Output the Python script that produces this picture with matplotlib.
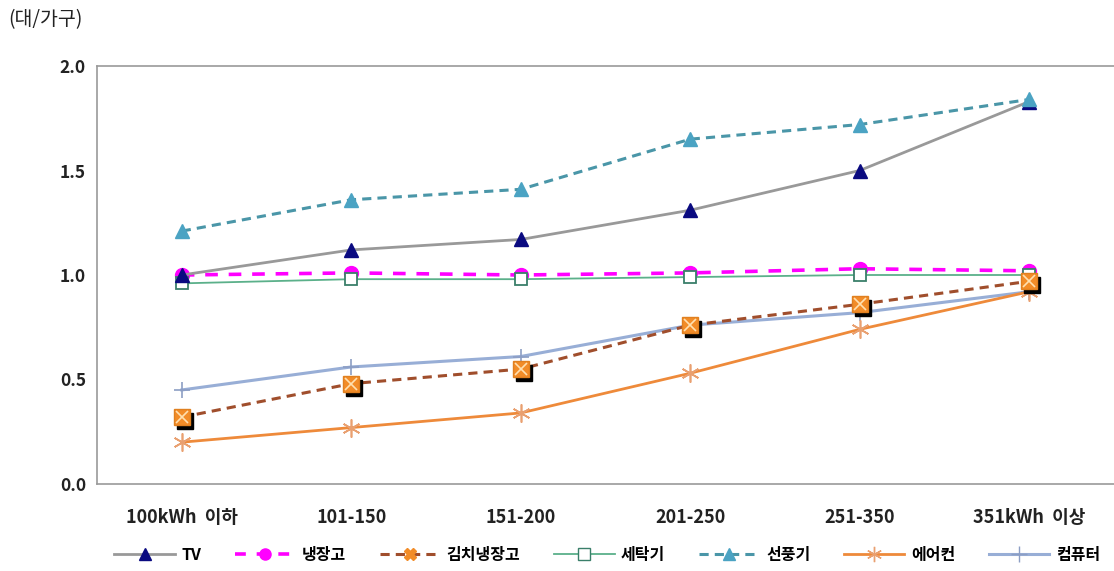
import matplotlib
matplotlib.use("Agg")
import matplotlib.pyplot as plt
import matplotlib.transforms as mtransforms
from matplotlib.lines import Line2D

plt.rcParams['font.family'] = ['Noto Sans CJK KR', 'DejaVu Sans']

categories = ["100kWh  이하", "101-150", "151-200", "201-250", "251-350", "351kWh  이상"]
tv = [1.00, 1.12, 1.17, 1.31, 1.50, 1.83]
fridge = [1.00, 1.01, 1.00, 1.01, 1.03, 1.02]
kimchi = [0.32, 0.48, 0.55, 0.76, 0.86, 0.97]
washer = [0.96, 0.98, 0.98, 0.99, 1.00, 1.00]
fan = [1.21, 1.36, 1.41, 1.65, 1.72, 1.84]
aircon = [0.20, 0.27, 0.34, 0.53, 0.74, 0.92]
computer = [0.45, 0.56, 0.61, 0.76, 0.82, 0.92]
series_names = ["TV", "냉장고", "김치냉장고", "세탁기", "선풍기", "에어컨", "컴퓨터"]
yticks = [0.0, 0.5, 1.0, 1.5, 2.0]

fig = plt.figure(figsize=(11.14, 5.71), dpi=100)
ax = fig.add_axes([97/1114, 1-484/571, 1-97/1114, (484-66)/571])
x = list(range(len(categories)))

asterisk = (6, 2, 0)
# shadow for kimchi markers
shadow = mtransforms.offset_copy(ax.transData, fig=fig, x=3, y=-4, units='dots')

ax.plot(x, washer, color='#5BB08A', lw=1.3, marker='s', ms=9, mfc='white', mec='#3A7F6A', mew=1.3, zorder=3)
ax.plot(x, computer, color='#98AED6', lw=2.2, marker='+', ms=12, mec='#8C9EC4', mew=1.2, zorder=3)
ax.plot(x, aircon, color='#EE8A3A', lw=2.0, marker=asterisk, ms=13, mec='#E9A070', mew=1.2, zorder=3)
ax.plot(x, kimchi, color='#A04E2C', lw=2.2, ls=(0, (3, 2)), zorder=4)
ax.plot(x, kimchi, ls='none', marker='s', ms=11, mfc='black', mec='black', transform=shadow, zorder=4)
ax.plot(x, kimchi, ls='none', marker='s', ms=11, mfc='#F28C28', mec='#E08020', zorder=5)
ax.plot(x, kimchi, ls='none', marker='x', ms=9, mec='#FFE0B0', mew=1.2, zorder=6)
ax.plot(x, fridge, color='#FF00FF', lw=2.6, ls=(0, (3.5, 3)), marker='o', ms=10, mfc='#FF00FF', mec='#FF00FF', zorder=2)
ax.plot(x, tv, color='#999999', lw=2.0, marker='^', ms=10, mfc='#0A0A80', mec='#0A0A80', zorder=3)
ax.plot(x, fan, color='#4A96A8', lw=2.2, ls=(0, (3, 2)), marker='^', ms=10, mfc='#4BA3C3', mec='#4BA3C3', zorder=3)

ax.set_xlim(-0.5, 5.5)
ax.set_ylim(0, 2.0)
ax.set_yticks(yticks)
ax.set_yticklabels([f"{v:.1f}" for v in yticks], fontsize=12.5, fontweight='bold', color='#222222')
ax.set_xticks(x)
ax.set_xticklabels(categories, fontsize=13, fontweight='bold', color='#222222')
ax.tick_params(axis='both', length=0)
ax.tick_params(axis='y', pad=8)
ax.tick_params(axis='x', pad=17)
for s in ['left', 'top', 'bottom']:
    ax.spines[s].set_color('#9A9A9A')
    ax.spines[s].set_linewidth(1.2)
ax.spines['right'].set_visible(False)

fig.text(8/1114, 1-20/571, "(대/가구)", fontsize=14, va='center', ha='left', color='#222222')

handles = [
    Line2D([], [], color='#999999', lw=2.0, marker='^', ms=8, mfc='#0A0A80', mec='#0A0A80'),
    Line2D([], [], color='#FF00FF', lw=2.6, ls=(0, (3, 3)), marker='o', ms=8, mfc='#FF00FF', mec='#FF00FF'),
    Line2D([], [], color='#A04E2C', lw=2.2, ls=(0, (3, 2)), marker='X', ms=9, mfc='#F28C28', mec='#F28C28'),
    Line2D([], [], color='#5BB08A', lw=1.3, marker='s', ms=8, mfc='white', mec='#3A7F6A'),
    Line2D([], [], color='#4A96A8', lw=2.2, ls=(0, (3, 2)), marker='^', ms=8, mfc='#4BA3C3', mec='#4BA3C3'),
    Line2D([], [], color='#EE8A3A', lw=2.0, marker=asterisk, ms=11, mec='#E9A070'),
    Line2D([], [], color='#98AED6', lw=2.2, marker='+', ms=11, mec='#8C9EC4'),
]
fig.legend(handles, series_names, loc='center', bbox_to_anchor=(0.545, 1-555/571), ncol=7,
           frameon=False, handlelength=3.8, columnspacing=2.1, handletextpad=0.4,
           prop={'family': ['Noto Sans CJK KR', 'DejaVu Sans'], 'weight': 'bold', 'size': 11.5})

fig.savefig("out.png", dpi=100)
